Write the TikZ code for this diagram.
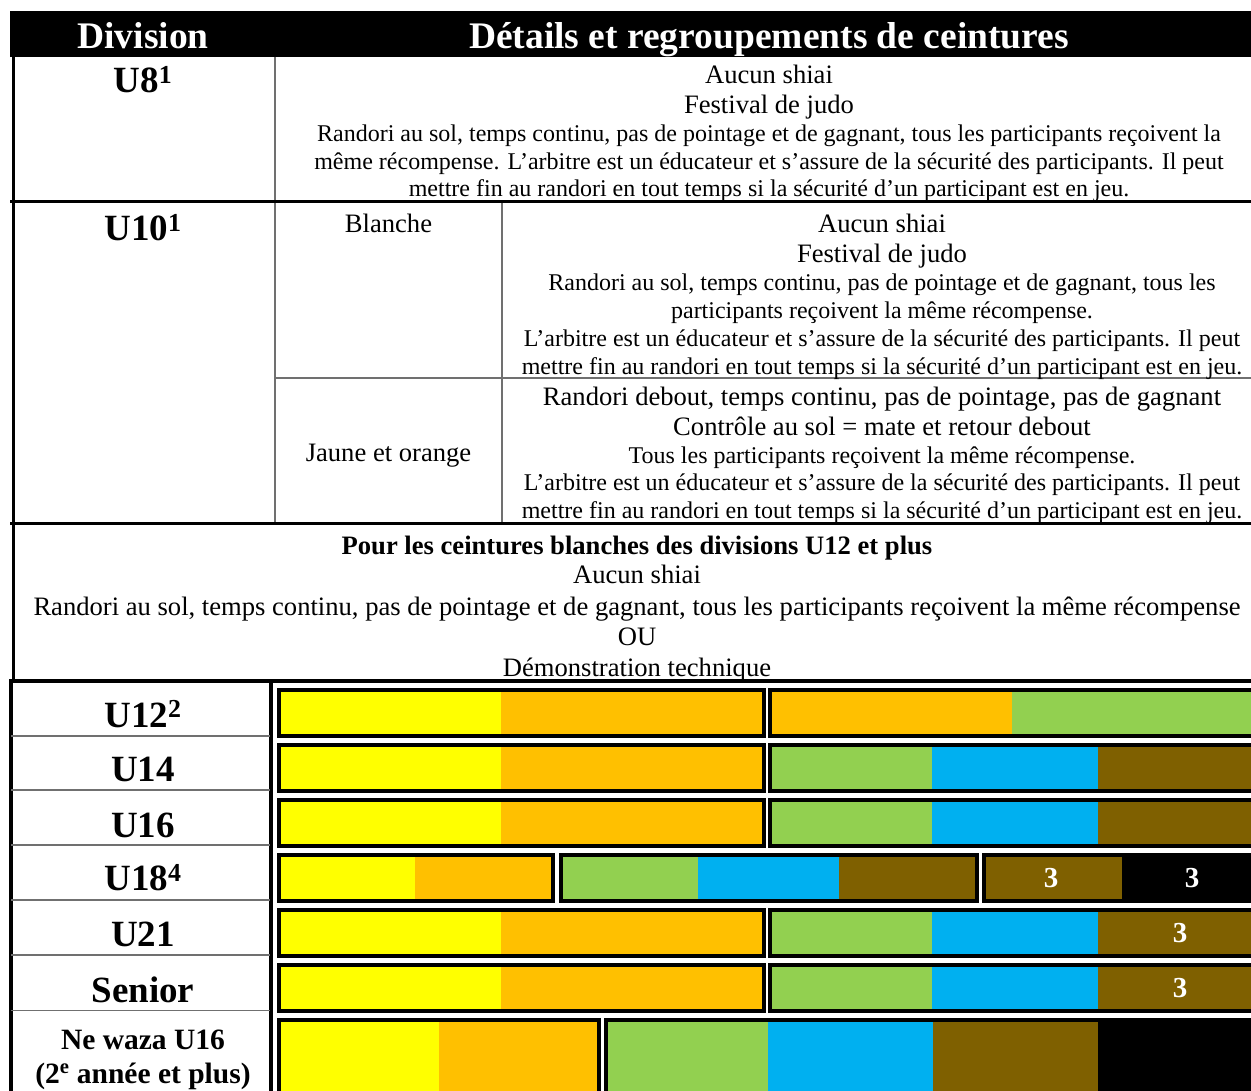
\documentclass[tikz,border=0pt]{standalone}
\usepackage{fontspec}
\setmainfont{Liberation Serif}
\definecolor{cyel}{HTML}{FFFF00}
\definecolor{corg}{HTML}{FFC000}
\definecolor{cgrn}{HTML}{92D050}
\definecolor{cblu}{HTML}{00B0F0}
\definecolor{cbrn}{HTML}{7F6000}
\definecolor{cgry}{HTML}{707070}
\newcommand\fbig{\fontsize{26.6}{30}\selectfont}
\newcommand\fsml{\fontsize{24}{27}\selectfont}
\newcommand\fhd{\fontsize{37}{40}\selectfont\bfseries}
\newcommand\fhdr{\fontsize{37.5}{40}\selectfont\bfseries}
\newcommand\fnw{\fontsize{29.5}{32}\selectfont\bfseries}
\newcommand\fsub{\fontsize{26.6}{30}\selectfont\bfseries}
\newcommand\fthree{\fontsize{29}{32}\selectfont\bfseries}
\tikzset{
  tx/.style={anchor=base, inner sep=0pt, outer sep=0pt, font=\fbig},
  tsm/.style={tx, font=\fsml},
  lab/.style={tx, font=\fhd},
  hd/.style={tx, font=\fhdr, text=white},
  three/.style={anchor=center, inner sep=0pt, font=\fthree, text=white},
  rulethick/.style={line width=3.5pt, black},
  gridline/.style={line width=1.8pt, cgry},
  barbox/.style={draw=black, line width=4pt},
}
\begin{document}
\begin{tikzpicture}[x=1pt,y=-1pt]
\useasboundingbox (0,0) rectangle (1251,1091);
\clip (0,0) rectangle (1251,1091);
\fill[white] (0,0) rectangle (1251,1091);

% header
\fill[black] (10,11) rectangle (1265,57);
\node[hd] (hdiv) at (143,49) {Division};
\node[hd] (hdet) at (769,49) {Détails et regroupements de ceintures};

% grid lines
\draw[gridline] (275,57) -- (275,523);
\draw[gridline] (501.7,202) -- (501.7,523);
\draw[gridline] (275,377.7) -- (1265,377.7);
\draw[rulethick] (10,201.7) -- (1265,201.7);
\draw[rulethick] (10,523.3) -- (1265,523.3);
\draw[line width=4pt] (9,681.3) -- (1265,681.3);
\draw[rulethick] (13.3,55) -- (13.3,683);
\draw[rulethick] (11,680) -- (11,1095);
\draw[line width=3.8pt] (270.7,681) -- (270.7,1095);
\foreach \yy in {735.7,790.3,845,900,955,1010.5}
  \draw[gridline] (11,\yy) -- (270,\yy);

% U8 row
\node[lab] (u8) at (143,93) {U8\textsuperscript{1}};
\node[tx] (u8a) at (769,84) {Aucun shiai};
\node[tx] (u8b) at (769,114) {Festival de judo};
\node[tsm] (u8c) at (769,142) {Randori au sol, temps continu, pas de pointage et de gagnant, tous les participants reçoivent la};
\node[tsm] (u8d) at (769,170) {même récompense. L’arbitre est un éducateur et s’assure de la sécurité des participants. Il peut};
\node[tsm] (u8e) at (769,197) {mettre fin au randori en tout temps si la sécurité d’un participant est en jeu.};

% U10 row
\node[lab] (u10) at (143,241) {U10\textsuperscript{1}};
\node[tx] (bl) at (388.5,233) {Blanche};
\node[tx] (jo) at (388.5,461.5) {Jaune et orange};
\node[tx] (b1) at (882,233) {Aucun shiai};
\node[tx] (b2) at (882,263) {Festival de judo};
\node[tsm] (b3) at (882,291) {Randori au sol, temps continu, pas de pointage et de gagnant, tous les};
\node[tsm] (b4) at (882,319) {participants reçoivent la même récompense.};
\node[tsm] (b5) at (882,347) {L’arbitre est un éducateur et s’assure de la sécurité des participants. Il peut};
\node[tsm] (b6) at (882,374) {mettre fin au randori en tout temps si la sécurité d’un participant est en jeu.};
\node[tx] (j1) at (882,405.5) {Randori debout, temps continu, pas de pointage, pas de gagnant};
\node[tx] (j2) at (882,435.5) {Contrôle au sol = mate et retour debout};
\node[tsm] (j3) at (882,463.5) {Tous les participants reçoivent la même récompense.};
\node[tsm] (j4) at (882,490.5) {L’arbitre est un éducateur et s’assure de la sécurité des participants. Il peut};
\node[tsm] (j5) at (882,518.5) {mettre fin au randori en tout temps si la sécurité d’un participant est en jeu.};

% white belts section
\node[tx, font=\fsub] (w1) at (637,554) {Pour les ceintures blanches des divisions U12 et plus};
\node[tx] (w2) at (637,583) {Aucun shiai};
\node[tx] (w3) at (637,615) {Randori au sol, temps continu, pas de pointage et de gagnant, tous les participants reçoivent la même récompense};
\node[tx] (w4) at (637,645.5) {OU};
\node[tx] (w5) at (637,676) {Démonstration technique};

% belt row labels
\node[lab] (u12) at (143,727) {U12\textsuperscript{2}};
\node[lab] (u14) at (143,781.5) {U14};
\node[lab] (u16) at (143,837.5) {U16};
\node[lab] (u18) at (143,890.5) {U18\textsuperscript{4}};
\node[lab] (u21) at (143,946.5) {U21};
\node[lab] (sen) at (143,1002.5) {Senior};
\node[tx, font=\fnw] (nw1) at (143,1049) {Ne waza U16};
\node[tx, font=\fnw] (nw2) at (143,1083) {(2\textsuperscript{e} année et plus)};

% standard first bars
\foreach \T in {688,743,798,908,963}{
  \fill[cyel] (279,{\T+2}) rectangle (501,{\T+48});
  \fill[corg] (501,{\T+2}) rectangle (763.5,{\T+48});
  \draw[barbox] (279,{\T+2}) rectangle (763.5,{\T+48});
}
% U12 second bar
\fill[corg] (770,690) rectangle (1012,736);
\fill[cgrn] (1012,690) rectangle (1275,736);
\draw[barbox] (770,690) rectangle (1275,736);
% U14, U16, U21, Senior second bars
\foreach \T in {743,798,908,963}{
  \fill[cgrn] (770,{\T+2}) rectangle (932,{\T+48});
  \fill[cblu] (932,{\T+2}) rectangle (1098,{\T+48});
  \fill[cbrn] (1098,{\T+2}) rectangle (1275,{\T+48});
  \draw[barbox] (770,{\T+2}) rectangle (1275,{\T+48});
}
\node[three] (t21) at (1180,933) {3};
\node[three] (tsen) at (1180,988) {3};

% U18 bars
\fill[cyel] (279,855) rectangle (415,901);
\fill[corg] (415,855) rectangle (553,901);
\draw[barbox] (279,855) rectangle (553,901);
\fill[cgrn] (561,855) rectangle (698,901);
\fill[cblu] (698,855) rectangle (839,901);
\fill[cbrn] (839,855) rectangle (977,901);
\draw[barbox] (561,855) rectangle (977,901);
\fill[cbrn] (984,855) rectangle (1122,901);
\fill[black] (1122,855) rectangle (1275,901);
\draw[barbox] (984,855) rectangle (1275,901);
\node[three] (t18a) at (1051,878) {3};
\node[three] (t18b) at (1192,878) {3};

% Ne waza bars
\fill[cyel] (279,1020) rectangle (439,1100);
\fill[corg] (439,1020) rectangle (599,1100);
\draw[barbox] (279,1020) rectangle (599,1100);
\fill[cgrn] (606,1020) rectangle (768,1100);
\fill[cblu] (768,1020) rectangle (933,1100);
\fill[cbrn] (933,1020) rectangle (1098,1100);
\fill[black] (1098,1020) rectangle (1275,1100);
\draw[barbox] (606,1020) rectangle (1275,1100);
\end{tikzpicture}
\end{document}
